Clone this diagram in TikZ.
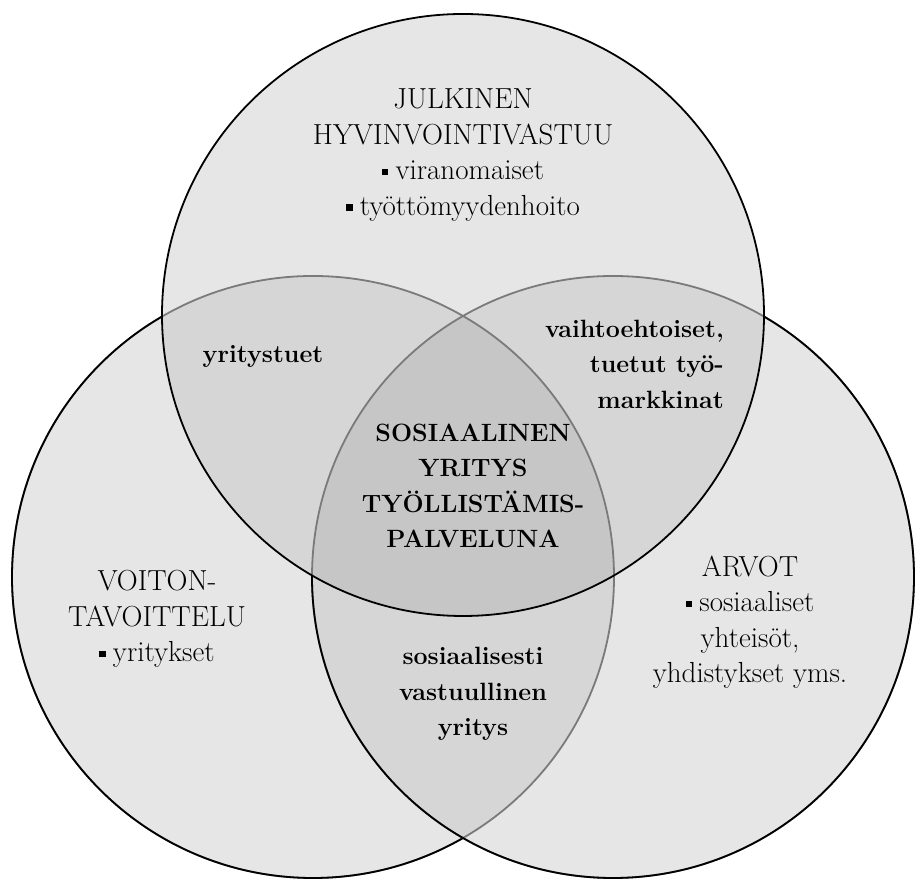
\documentclass[tikz,border=0pt]{standalone}
\usepackage{fontspec}
\newcommand\sqbul{\raisebox{0.16em}{\rule{0.22em}{0.22em}}\hspace{0.25em}}
\definecolor{cone}{HTML}{E6E6E6}
\definecolor{ctwo}{HTML}{D6D6D6}
\definecolor{cthree}{HTML}{C6C6C6}
\definecolor{cline}{HTML}{7A7A7A}
\begin{document}
\begin{tikzpicture}[x=1pt,y=1pt,
  reg/.style={font=\fontsize{29}{35.5}\selectfont, align=center, inner sep=0pt},
  bld/.style={font=\fontsize{25}{35.5}\selectfont\bfseries, align=center, inner sep=0pt},
  edge/.style={line width=1.8pt}]
\useasboundingbox (0,0) rectangle (916,880);
\def\R{301pt}
\coordinate (T) at (463,565);
\coordinate (L) at (313,303);
\coordinate (Rc) at (613,303);
% fills
\fill[cone] (T) circle[radius=\R];
\fill[cone] (L) circle[radius=\R];
\fill[cone] (Rc) circle[radius=\R];
\begin{scope}
  \clip (T) circle[radius=\R];
  \fill[ctwo] (L) circle[radius=\R];
  \fill[ctwo] (Rc) circle[radius=\R];
\end{scope}
\begin{scope}
  \clip (L) circle[radius=\R];
  \fill[ctwo] (Rc) circle[radius=\R];
\end{scope}
\begin{scope}
  \clip (T) circle[radius=\R];
  \clip (L) circle[radius=\R];
  \fill[cthree] (Rc) circle[radius=\R];
\end{scope}
% left circle outline
\draw[edge,cline] (L) circle[radius=\R];
\begin{scope}[even odd rule]
  \clip (-5,-5) -- (-5,885) -- (921,885) -- (921,-5) -- cycle (T) circle[radius=\R];
  \begin{scope}[even odd rule]
    \clip (-5,-5) -- (-5,885) -- (921,885) -- (921,-5) -- cycle (Rc) circle[radius=\R];
    \draw[edge,black] (L) circle[radius=\R];
  \end{scope}
\end{scope}
% right circle outline
\draw[edge,cline] (Rc) circle[radius=\R];
\begin{scope}[even odd rule]
  \clip (-5,-5) -- (-5,885) -- (921,885) -- (921,-5) -- cycle (T) circle[radius=\R];
  \draw[edge,black] (Rc) circle[radius=\R];
\end{scope}
% top circle outline
\draw[edge,black] (T) circle[radius=\R];
% texts
\node[reg] (julk) at (463,725) {JULKINEN\\HYVINVOINTIVASTUU\\\sqbul viranomaiset\\\sqbul työttömyydenhoito};
\node[bld] (yrt) at (263,523) {yritystuet};
\node[bld, align=right, anchor=east] (vaiht) at (724,516) {vaihtoehtoiset,\\tuetut työ-\\markkinat};
\node[bld] (sos) at (473,394) {SOSIAALINEN\\YRITYS\\TYÖLLISTÄMIS-\\PALVELUNA};
\node[reg] (voit) at (157,261) {VOITON-\\TAVOITTELU\\\sqbul yritykset};
\node[bld] (vast) at (473,186) {sosiaalisesti\\vastuullinen\\yritys};
\node[reg] (arvot) at (750,258) {ARVOT\\\sqbul sosiaaliset\\yhteisöt,\\yhdistykset yms.};
\end{tikzpicture}
\end{document}
